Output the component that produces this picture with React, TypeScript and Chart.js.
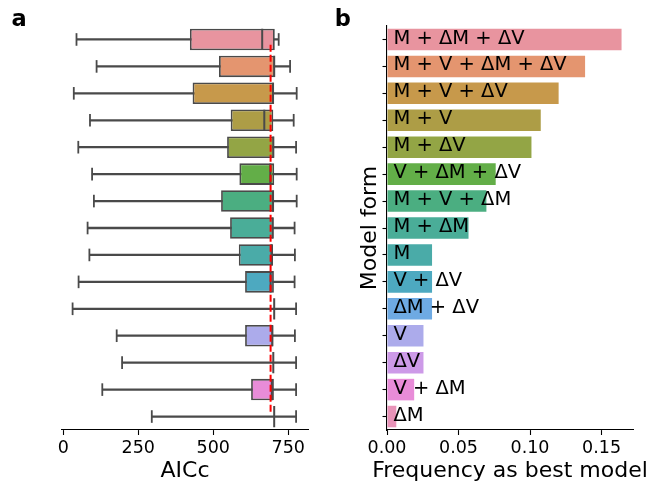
import React, { useEffect, useRef } from "react";
import { Chart, registerables } from "chart.js";

Chart.register(...registerables);

// ---------- data ----------
const models = [
  "M + ΔM + ΔV",
  "M + V + ΔM + ΔV",
  "M + V + ΔV",
  "M + V",
  "M + ΔV",
  "V + ΔM + ΔV",
  "M + V + ΔM",
  "M + ΔM",
  "M",
  "V + ΔV",
  "ΔM + ΔV",
  "V",
  "ΔV",
  "V + ΔM",
  "ΔM",
];

const whiskerLow = [44, 111, 35, 89, 50, 96, 102, 81, 87, 51, 31, 178, 196, 130, 295];
const quart1 = [422, 519, 431, 558, 546, 587, 526, 556, 585, 606, 702, 606, 699, 626, 702];
const medians = [663, 703, 699, 670, 700, 690, 699, 698, 694, 691, 703, 697, 700, 695, 703];
const quart3 = [705, 706, 703, 700, 703, 703, 703, 701, 699, 702, 703, 699, 700, 702, 703];
const whiskerHigh = [718, 756, 778, 768, 776, 778, 778, 771, 772, 771, 776, 772, 776, 776, 776];

const bestAicc = 691;

const frequency = [
  0.164, 0.1385, 0.12, 0.1075, 0.101, 0.076, 0.0695, 0.057, 0.0315, 0.0315, 0.0315, 0.0255,
  0.0255, 0.019, 0.0065,
];

const aiccTicks = [0, 250, 500, 750];
const freqTicks = [0, 0.05, 0.1, 0.15];

const titleA = "AICc";
const titleB = "Frequency as best model";
const titleBY = "Model form";

// ---------- styles ----------
const palette = [
  "#e8949f",
  "#e4956f",
  "#c7994b",
  "#ad9d46",
  "#93a545",
  "#63ae48",
  "#4bae81",
  "#4aad98",
  "#4aaba8",
  "#4da9c0",
  "#6eaae3",
  "#acabeb",
  "#cd9ae8",
  "#e88cd8",
  "#e893b8",
];
const FONT = "'DejaVu Sans', sans-serif";
const EDGE = "#4a4a4a";

const panelLetter = (letter: string, x: number, y: number) => ({
  id: "panelLetter" + letter,
  afterDraw(chart: any) {
    const ctx = chart.ctx;
    ctx.save();
    ctx.font = `bold 22.5px ${FONT}`;
    ctx.fillStyle = "#000";
    ctx.textBaseline = "alphabetic";
    ctx.textAlign = "left";
    ctx.fillText(letter, x, y);
    ctx.restore();
  },
});

const xTitle = (text: string, baseline: number) => ({
  id: "xTitle",
  afterDraw(chart: any) {
    const ctx = chart.ctx;
    const area = chart.chartArea;
    ctx.save();
    ctx.font = `22px ${FONT}`;
    ctx.fillStyle = "#000";
    ctx.textBaseline = "alphabetic";
    ctx.textAlign = "center";
    ctx.fillText(text, (area.left + area.right) / 2, baseline);
    ctx.restore();
  },
});

const barLabels = {
  id: "barLabels",
  afterDatasetsDraw(chart: any) {
    const ctx = chart.ctx;
    const xs = chart.scales.x;
    const ys = chart.scales.y;
    ctx.save();
    ctx.font = `19.5px ${FONT}`;
    ctx.fillStyle = "#000";
    ctx.textBaseline = "middle";
    ctx.textAlign = "left";
    models.forEach((m, i) => {
      ctx.fillText(m, xs.getPixelForValue(0.0045), ys.getPixelForValue(i) - 1);
    });
    ctx.restore();
  },
};

const tickFont = { family: FONT, size: 17.5 };
const titleFont = { family: FONT, size: 22 };

export default function App() {
  const aRef = useRef<HTMLCanvasElement>(null);
  const bRef = useRef<HTMLCanvasElement>(null);

  useEffect(() => {
    const chartA = new Chart(aRef.current as HTMLCanvasElement, {
      type: "bar",
      data: {
        labels: models,
        datasets: [
          {
            type: "line",
            data: [
              { x: bestAicc, y: 0 },
              { x: bestAicc, y: 1 },
            ],
            xAxisID: "x",
            yAxisID: "yr",
            borderColor: "#ff0000",
            borderWidth: 2,
            borderDash: [7, 3],
            pointRadius: 0,
            order: 0,
          } as any,
          {
            type: "scatter",
            data: models.map((m, i) => ({ x: medians[i], y: m })),
            yAxisID: "y",
            pointStyle: "line",
            pointRotation: 90,
            pointRadius: 10.6,
            pointBorderWidth: 2,
            pointBorderColor: EDGE,
            pointBackgroundColor: EDGE,
            order: 1,
          } as any,
          {
            type: "scatter",
            data: models
              .map((m, i) => ({ x: whiskerLow[i], y: m }))
              .concat(models.map((m, i) => ({ x: whiskerHigh[i], y: m }))),
            yAxisID: "y",
            pointStyle: "line",
            pointRotation: 90,
            pointRadius: 6.3,
            pointBorderWidth: 1.8,
            pointBorderColor: EDGE,
            pointBackgroundColor: EDGE,
            order: 2,
          } as any,
          {
            type: "bar",
            data: models.map((m, i) => [quart1[i], quart3[i]]),
            yAxisID: "y",
            backgroundColor: palette,
            borderColor: EDGE,
            borderWidth: 1.8,
            borderSkipped: false,
            barPercentage: 0.8,
            categoryPercentage: 1,
            grouped: false,
            order: 3,
          } as any,
          {
            type: "bar",
            data: models.map((m, i) => [whiskerLow[i], whiskerHigh[i]]),
            yAxisID: "y",
            backgroundColor: EDGE,
            barThickness: 1.6,
            grouped: false,
            order: 4,
          } as any,
        ],
      },
      options: {
        indexAxis: "y",
        responsive: false,
        animation: false,
        events: [],
        layout: { padding: { left: 62, right: 16, top: 26, bottom: 0 } },
        plugins: { legend: { display: false }, tooltip: { enabled: false } },
        scales: {
          x: {
            type: "linear",
            position: "bottom",
            min: -4.3,
            max: 815.7,
            afterBuildTicks: (s: any) => {
              s.ticks = aiccTicks.map((v) => ({ value: v }));
            },
            afterFit: (s: any) => {
              s.height = 56;
            },
            ticks: { font: tickFont, color: "#000", padding: 3, maxRotation: 0, autoSkip: false },
            grid: {
              display: true,
              drawOnChartArea: false,
              drawTicks: true,
              tickLength: 5,
              tickWidth: 1.1,
              tickColor: "#000",
            },
            border: { display: true, color: "#000", width: 1.1 },
            title: { display: false },
          },
          y: { type: "category", display: false, offset: true },
          yr: { type: "linear", axis: "y", display: false, min: 0, max: 1 },
        } as any,
      },
      plugins: [panelLetter("a", 11.4, 26), xTitle(titleA, 477)],
    } as any);

    const chartB = new Chart(bRef.current as HTMLCanvasElement, {
      type: "bar",
      data: {
        labels: models,
        datasets: [
          {
            data: frequency,
            backgroundColor: palette,
            borderWidth: 0,
            barPercentage: 0.8,
            categoryPercentage: 1,
          },
        ],
      },
      options: {
        indexAxis: "y",
        responsive: false,
        animation: false,
        events: [],
        layout: { padding: { left: 0, right: 15, top: 26, bottom: 0 } },
        plugins: { legend: { display: false }, tooltip: { enabled: false } },
        scales: {
          x: {
            type: "linear",
            position: "bottom",
            min: 0,
            max: 0.172,
            afterBuildTicks: (s: any) => {
              s.ticks = freqTicks.map((v) => ({ value: v }));
            },
            afterFit: (s: any) => {
              s.height = 56;
            },
            ticks: {
              font: tickFont,
              color: "#000",
              padding: 3,
              maxRotation: 0,
              autoSkip: false,
              callback: (v: any) => Number(v).toFixed(2),
            },
            grid: {
              display: true,
              drawOnChartArea: false,
              drawTicks: true,
              tickLength: 5,
              tickWidth: 1.1,
              tickColor: "#000",
            },
            border: { display: true, color: "#000", width: 1.1 },
            title: { display: false },
          },
          y: {
            type: "category",
            position: "left",
            offset: true,
            afterFit: (s: any) => {
              s.width = 63;
            },
            ticks: { display: false },
            grid: {
              display: true,
              offset: false,
              drawOnChartArea: false,
              drawTicks: true,
              tickLength: 4.5,
              tickWidth: 1.1,
              tickColor: "#000",
            },
            border: { display: true, color: "#000", width: 1.1 },
            title: {
              display: true,
              text: titleBY,
              font: titleFont,
              color: "#000",
              padding: { top: 33.4, bottom: 0 },
            },
          },
        } as any,
      },
      plugins: [barLabels, panelLetter("b", 10.7, 26), xTitle(titleB, 477)],
    } as any);

    return () => {
      chartA.destroy();
      chartB.destroy();
    };
  }, []);

  return (
    <div
      style={{
        position: "fixed",
        left: 0,
        top: 0,
        width: 648,
        height: 486,
        background: "#fff",
        overflow: "hidden",
      }}
    >
      <div style={{ position: "absolute", left: 0, top: 0, width: 324, height: 486 }}>
        <canvas ref={aRef} width={324} height={486} style={{ display: "block" }} />
      </div>
      <div style={{ position: "absolute", left: 324, top: 0, width: 324, height: 486 }}>
        <canvas ref={bRef} width={324} height={486} style={{ display: "block" }} />
      </div>
    </div>
  );
}
